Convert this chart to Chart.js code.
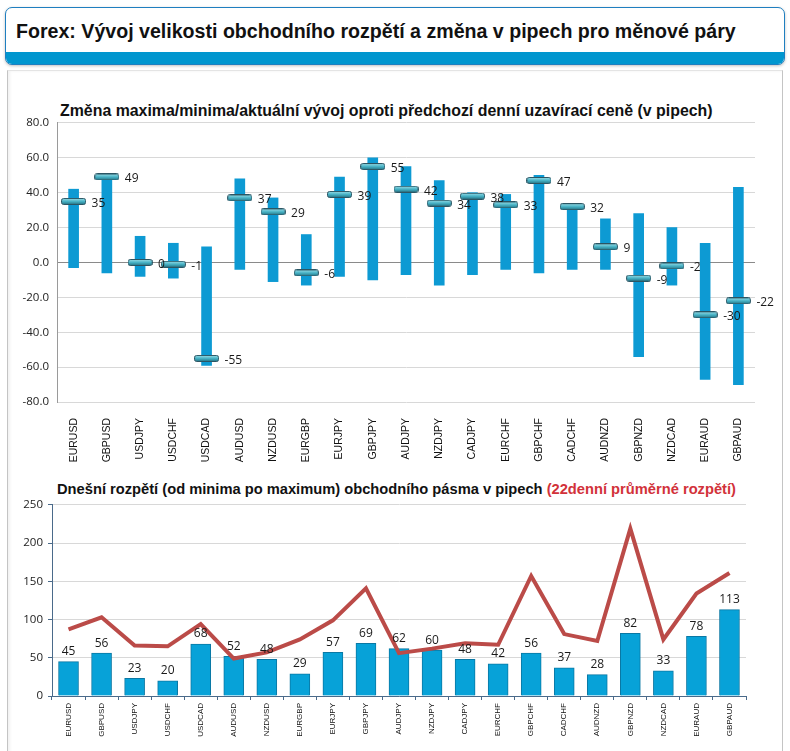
<!DOCTYPE html>
<html>
<head>
<meta charset="UTF-8">
<title>Forex: vývoj rozpětí a změna v pipech</title>
<script src="https://cdn.jsdelivr.net/npm/chart.js@4.4.0/dist/chart.umd.min.js"></script>
<style>
  body { margin: 0; background: #fff; font-family: "Liberation Sans", Arial, sans-serif; }
  #page { position: relative; width: 790px; height: 751px; overflow: hidden; }
  #header {
    position: absolute; left: 5px; top: 7px; width: 778px; height: 56px;
    border: 1.5px solid #1f7fc0; border-radius: 7px; overflow: hidden;
    box-shadow: 0 1px 3px rgba(0,0,0,0.25); background: #fff;
  }
  #header .band { position: absolute; left: 0; right: 0; bottom: 0; height: 12px; background: #0096cf; }
  #header h1 { position: absolute; left: 10px; top: 12px; margin: 0; font-size: 19.6px; font-weight: bold; color: #111; white-space: nowrap; }
  #panel {
    position: absolute; left: 7px; top: 70px; width: 774px; height: 690px;
    border-left: 1px solid #c4c4c4; border-right: 1px solid #c4c4c4; border-top: 1px solid #e4e4e4;
    box-shadow: inset 2px 0 3px rgba(0,0,0,0.06);
  }
  .ctitle { position: absolute; margin: 0; font-weight: bold; color: #111; white-space: nowrap; }
  .ctitle span { color: #d2323a; }
  canvas { position: absolute; }
</style>
</head>
<body>
<div id="page">
  <div id="header"><h1>Forex: Vývoj velikosti obchodního rozpětí a změna v pipech pro měnové páry</h1><div class="band"></div></div>
  <div id="panel"></div>
  <div class="ctitle" style="left:60px; top:102px; font-size:15.9px;">Změna maxima/minima/aktuální vývoj oproti předchozí denní uzavírací ceně (v pipech)</div>
  <canvas id="changeChart" width="770" height="360" style="left:10px; top:108px;"></canvas>
  <div class="ctitle" style="left:57px; top:481px; font-size:14.7px;">Dnešní rozpětí (od minima po maximum) obchodního pásma v pipech <span>(22denní průměrné rozpětí)</span></div>
  <canvas id="rangeChart" width="760" height="252" style="left:10px; top:493px;"></canvas>
</div>

<script>
const pairs = ['EURUSD','GBPUSD','USDJPY','USDCHF','USDCAD','AUDUSD','NZDUSD','EURGBP','EURJPY','GBPJPY','AUDJPY',
               'NZDJPY','CADJPY','EURCHF','GBPCHF','CADCHF','AUDNZD','GBPNZD','NZDCAD','EURAUD','GBPAUD'];
// top chart: day high / low / current vs previous close (pips)
const highs   = [42, 50, 15, 11, 9, 48, 37, 16, 49, 60, 55, 47, 40, 39, 50, 33, 25, 28, 20, 11, 43];
const lows    = [-3, -6, -8, -9, -59, -4, -11, -13, -8, -10, -7, -13, -7, -4, -6, -4, -4, -54, -13, -67, -70];
const current = [35, 49, 0, -1, -55, 37, 29, -6, 39, 55, 42, 34, 38, 33, 47, 32, 9, -9, -2, -30, -22];
// bottom chart: today's range and 22-day average range
const todayRange = [45, 56, 23, 20, 68, 52, 48, 29, 57, 69, 62, 60, 48, 42, 56, 37, 28, 82, 33, 78, 113];
const avgRange   = [87, 103, 66, 65, 94, 49, 57, 74, 99, 141, 56, 62, 69, 67, 157, 81, 72, 219, 74, 134, 161];

// little capsule used as point marker for the current value
function makeMarker() {
  const c = document.createElement('canvas');
  c.width = 25; c.height = 7;
  const g = c.getContext('2d');
  const grad = g.createLinearGradient(0, 0, 0, 7);
  grad.addColorStop(0, '#a6e2ea');
  grad.addColorStop(0.5, '#48b3c6');
  grad.addColorStop(1, '#1f6b7c');
  g.fillStyle = grad;
  g.strokeStyle = '#2b5563';
  g.lineWidth = 1;
  g.beginPath();
  g.roundRect(0.5, 0.5, 24, 6, 2);
  g.fill();
  g.stroke();
  return c;
}

const valueLabels = {
  id: 'valueLabels',
  afterDatasetsDraw(chart) {
    const ctx = chart.ctx;
    chart.data.datasets.forEach((ds, i) => {
      if (!ds.labelPos) return;
      const meta = chart.getDatasetMeta(i);
      ctx.save();
      ctx.font = '12px "Open Sans", "DejaVu Sans", sans-serif';
      ctx.fillStyle = '#1a1a1a';
      meta.data.forEach((el, j) => {
        const v = ds.data[j];
        if (ds.labelPos === 'right') {
          ctx.textAlign = 'left'; ctx.textBaseline = 'middle';
          ctx.fillText(v, el.x + 18, el.y + 2);
        } else {
          ctx.textAlign = 'center'; ctx.textBaseline = 'bottom';
          ctx.fillText(v, el.x, el.y - 4);
        }
      });
      ctx.restore();
    });
  }
};

const tickFont = { family: '"Open Sans", "DejaVu Sans", sans-serif', size: 11.5 };

new Chart(document.getElementById('changeChart'), {
  type: 'bar',
  data: {
    labels: pairs,
    datasets: [
      {
        type: 'line',
        data: current,
        showLine: false,
        pointStyle: makeMarker(),
        labelPos: 'right',
        order: 1
      },
      {
        data: lows.map((l, i) => [l, highs[i]]),
        backgroundColor: '#0d9ad3',
        barThickness: 10,
        order: 2
      }
    ]
  },
  options: {
    responsive: false,
    animation: false,
    layout: { padding: { top: 6, right: 25, left: 0, bottom: 0 } },
    plugins: { legend: { display: false }, tooltip: { enabled: false } },
    scales: {
      x: {
        grid: { display: false },
        border: { display: false },
        ticks: { color: '#111', font: { family: '"Liberation Sans", Arial', size: 10.5 }, minRotation: 90, maxRotation: 90, padding: 8 },
        afterFit: s => { s.height = 66; }
      },
      y: {
        min: -80, max: 80,
        grid: {
          drawTicks: false,
          color: c => c.tick && c.tick.value === 0 ? '#8a8a8a' : '#d8d8d8'
        },
        border: { display: true, color: '#9a9a9a' },
        ticks: { stepSize: 20, color: '#222', font: tickFont, padding: 8, callback: v => v.toFixed(1) },
        afterFit: s => { s.width = 47; }
      }
    }
  },
  plugins: [valueLabels]
});

new Chart(document.getElementById('rangeChart'), {
  type: 'bar',
  data: {
    labels: pairs,
    datasets: [
      {
        type: 'line',
        data: avgRange,
        borderColor: '#bb4b48',
        borderWidth: 4,
        pointRadius: 0,
        tension: 0,
        order: 1
      },
      {
        data: todayRange,
        backgroundColor: '#07a2d8',
        borderColor: '#0a78a4',
        borderWidth: 1,
        barThickness: 20,
        labelPos: 'top',
        order: 2
      }
    ]
  },
  options: {
    responsive: false,
    animation: false,
    layout: { padding: { top: 0, right: 24, left: 0, bottom: 0 } },
    plugins: { legend: { display: false }, tooltip: { enabled: false } },
    scales: {
      x: {
        grid: { drawOnChartArea: false, drawTicks: true, tickLength: 4, color: '#4a6a8a' },
        border: { display: true, color: '#4a6a8a' },
        ticks: { color: '#111', font: { family: '"Liberation Sans", Arial', size: 8 }, minRotation: 90, maxRotation: 90, padding: 3 },
        afterFit: s => { s.height = 49; }
      },
      y: {
        min: 0, max: 250,
        grid: { color: '#d8d8d8', drawTicks: true, tickLength: 4, tickColor: '#4a6a8a' },
        border: { display: true, color: '#4a6a8a' },
        ticks: { stepSize: 50, color: '#222', font: tickFont, padding: 5 },
        afterFit: s => { s.width = 42; }
      }
    }
  },
  plugins: [valueLabels]
});
</script>
</body>
</html>
